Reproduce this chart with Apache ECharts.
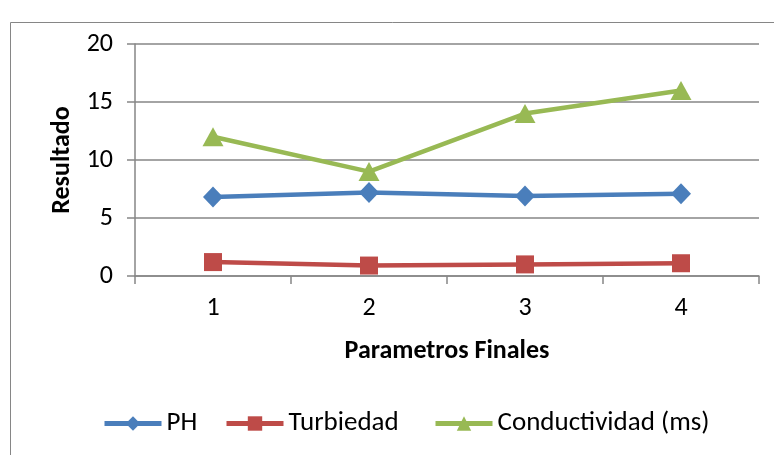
<!DOCTYPE html>
<html>
<head>
<meta charset="utf-8">
<script src="https://cdn.jsdelivr.net/npm/echarts@6/dist/echarts.min.js"></script>
<style>
  html, body { margin: 0; padding: 0; background: #fff; }
  #chart { width: 774px; height: 455px; }
</style>
</head>
<body>
<div id="chart"></div>
<script>
const categories = ['1', '2', '3', '4'];
const ph = [6.8, 7.2, 6.9, 7.1];
const turbiedad = [1.2, 0.9, 1.0, 1.1];
const conductividad = [12, 9, 14, 16];

const font = "Carlito, 'Liberation Sans Narrow', 'Open Sans', sans-serif";
const chart = echarts.init(document.getElementById('chart'));

const legendBase = {
  top: 410,
  padding: 0,
  itemWidth: 57,
  itemHeight: 18,
  itemGap: 0,
  lineStyle: { width: 5 },
  textStyle: { fontFamily: font, fontSize: 27, color: '#000' },
};

chart.setOption({
  animation: false,
  graphic: [{
    type: 'rect',
    shape: { x: 10.5, y: 22.5, width: 800, height: 500 },
    style: { fill: 'none', stroke: '#868686', lineWidth: 1 },
    silent: true,
  }],
  grid: { left: 135, right: 15, top: 44, bottom: 179 },
  legend: [
    Object.assign({ left: 102, data: ['PH'] }, legendBase),
    Object.assign({ left: 224, data: ['Turbiedad'] }, legendBase),
    Object.assign({ left: 433, data: ['Conductividad (ms)'] }, legendBase),
  ],
  xAxis: {
    type: 'category',
    data: categories,
    boundaryGap: true,
    name: 'Parametros Finales',
    nameLocation: 'middle',
    nameGap: 62,
    nameTextStyle: { fontFamily: font, fontSize: 26, fontWeight: 'bold', color: '#000' },
    axisLine: { lineStyle: { color: '#868686', width: 1.5 } },
    axisTick: { show: true, length: 8, lineStyle: { color: '#868686', width: 1.5 } },
    axisLabel: { fontFamily: font, fontSize: 26, color: '#000', margin: 19 },
  },
  yAxis: {
    type: 'value',
    min: 0,
    max: 20,
    interval: 5,
    name: 'Resultado',
    nameLocation: 'middle',
    nameGap: 58,
    nameTextStyle: { fontFamily: font, fontSize: 26, fontWeight: 'bold', color: '#000' },
    axisLine: { show: true, lineStyle: { color: '#868686', width: 1.5 } },
    axisTick: { show: true, length: 8, lineStyle: { color: '#868686', width: 1.5 } },
    axisLabel: { fontFamily: font, fontSize: 26, color: '#000', margin: 22 },
    splitLine: { lineStyle: { color: '#868686', width: 1.5 } },
  },
  series: [
    {
      name: 'PH', type: 'line', data: ph,
      symbol: 'diamond', symbolSize: [20, 21],
      lineStyle: { color: '#4A7EBB', width: 4.5 },
      itemStyle: { color: '#4A7EBB' },
    },
    {
      name: 'Turbiedad', type: 'line', data: turbiedad,
      symbol: 'rect', symbolSize: 18,
      lineStyle: { color: '#BE4B48', width: 4.5 },
      itemStyle: { color: '#BE4B48' },
    },
    {
      name: 'Conductividad (ms)', type: 'line', data: conductividad,
      symbol: 'triangle', symbolSize: [21, 19],
      lineStyle: { color: '#98B954', width: 4.5 },
      itemStyle: { color: '#98B954' },
    },
  ],
});
</script>
</body>
</html>
